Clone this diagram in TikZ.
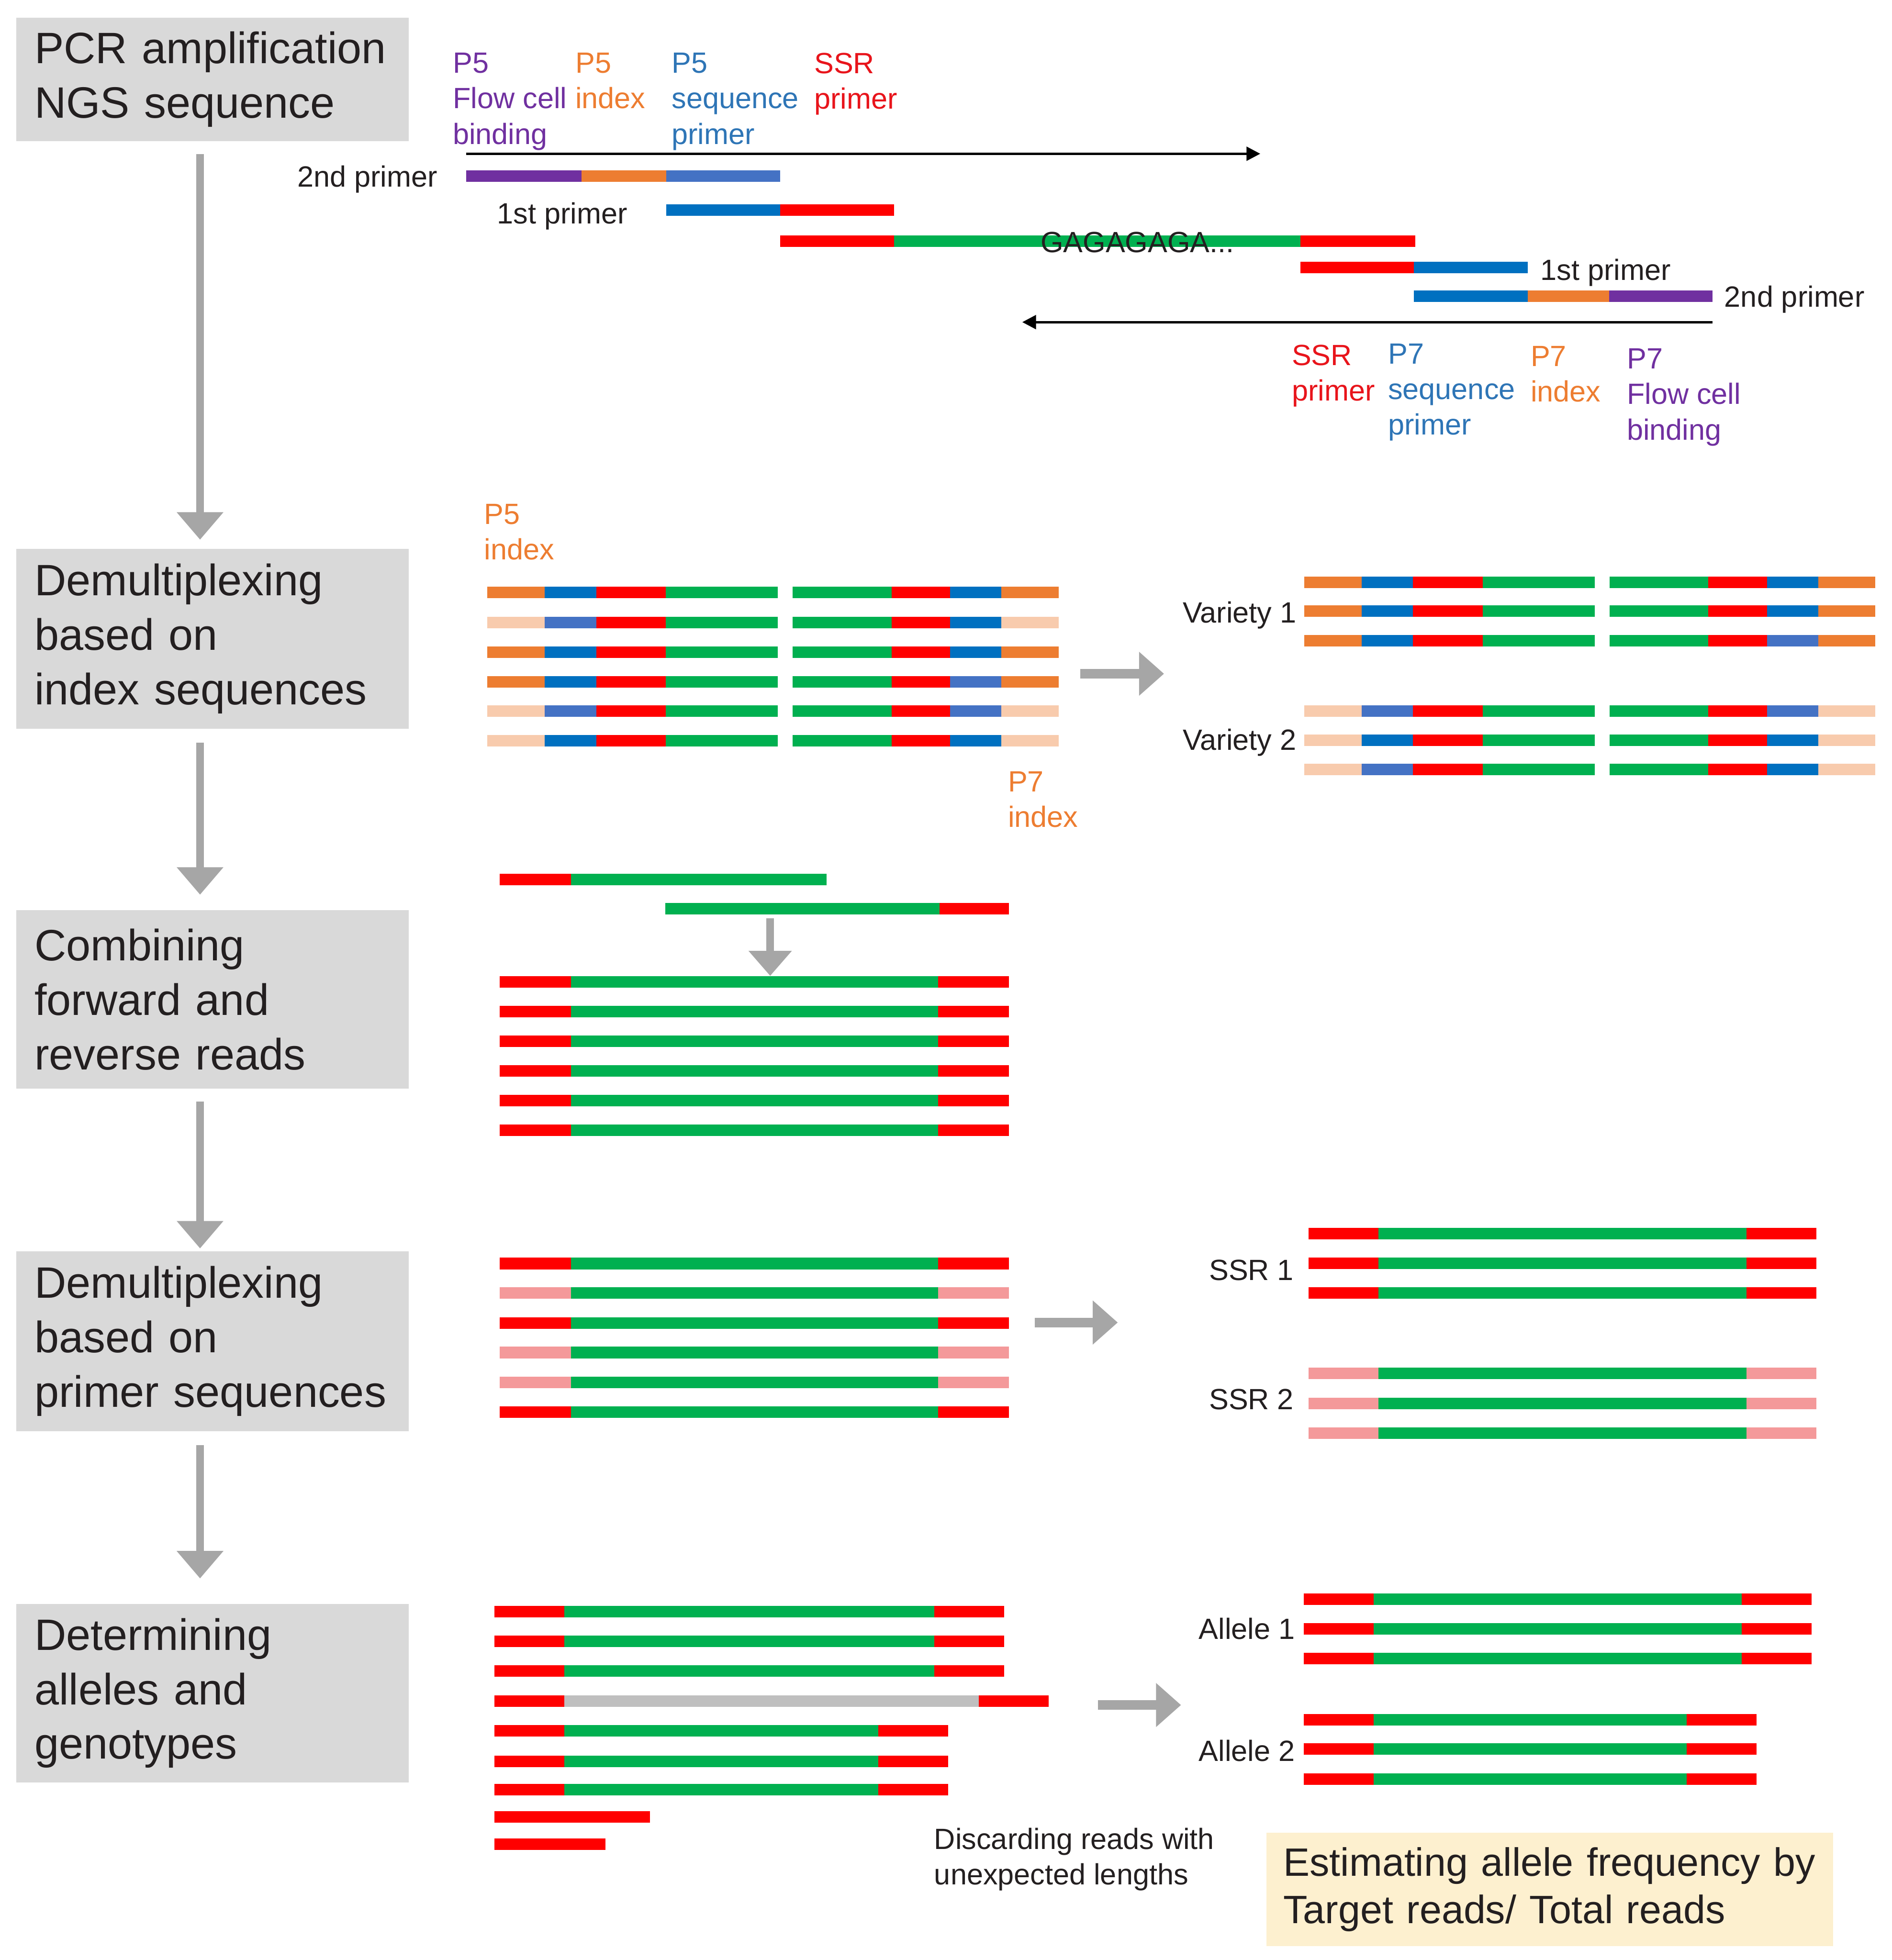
\documentclass[tikz,border=0pt]{standalone}
\usepackage{fontspec}
\setmainfont{Liberation Sans}
\usetikzlibrary{arrows.meta}
\definecolor{cpurple}{HTML}{7030A0}
\definecolor{corange}{HTML}{ED7D31}
\definecolor{cpeach}{HTML}{F8CBAD}
\definecolor{cbdark}{HTML}{0070C0}
\definecolor{cblight}{HTML}{4472C4}
\definecolor{cred}{HTML}{FF0000}
\definecolor{cgreen}{HTML}{00B050}
\definecolor{cpink}{HTML}{F4999A}
\definecolor{cgbar}{HTML}{BFBFBF}
\definecolor{cboxgray}{HTML}{D9D9D9}
\definecolor{cbeige}{HTML}{FDF0CF}
\definecolor{carrow}{HTML}{A6A6A6}
\definecolor{ctext}{HTML}{231F20}
\definecolor{tpurple}{HTML}{7030A0}
\definecolor{torange}{HTML}{ED7D31}
\definecolor{tblue}{HTML}{2E75B6}
\definecolor{tred}{HTML}{E8141B}
\newcommand{\bseg}[4]{\fill[fill=#1] (#2,#4-4.6) rectangle (#3,#4+4.6);}
\begin{document}
\begin{tikzpicture}[x=0.03cm,y=-0.03cm,
  stepbox/.style={fill=cboxgray, draw=none, minimum width=9.42cm, inner xsep=0.44cm, inner ysep=0pt, text width=8.54cm, align=left, font=\fontsize{30}{37.2}\selectfont, text=ctext},
  lbl/.style={inner sep=0pt, align=left, font=\fontsize{20}{24.3}\selectfont},
  blk/.style={lbl, text=ctext},
  garrow/.style={draw=carrow, line width=0.18cm, -{Triangle[length=0.66cm,width=1.08cm]}},
  harrow/.style={draw=carrow, line width=0.225cm, -{Triangle[length=0.6cm,width=1.02cm]}},
  karrow/.style={draw=black, line width=0.06cm, -{Triangle[length=0.33cm,width=0.33cm]}},
]
\useasboundingbox (0,0) rectangle (1513,1568);

% ---------- left step boxes ----------
\node[stepbox, minimum height=2.97cm] (b1) at (170,63.5) {PCR amplification\\NGS sequence};
\node[stepbox, minimum height=4.32cm] (b2) at (170,511) {Demultiplexing\\based on\\index sequences};
\node[stepbox, minimum height=4.29cm] (b3) at (170,799.5) {Combining\\forward and\\reverse reads};
\node[stepbox, minimum height=4.32cm] (b4) at (170,1073) {Demultiplexing\\based on\\primer sequences};
\node[stepbox, minimum height=4.29cm] (b5) at (170,1354.5) {Determining\\alleles and\\genotypes};

\draw[garrow, shorten <=0.3cm, shorten >=0.21cm] ([xshift=-0.3cm]b1.south) -- ([xshift=-0.3cm]b2.north);
\draw[garrow, shorten <=0.33cm, shorten >=0.36cm] ([xshift=-0.3cm]b2.south) -- ([xshift=-0.3cm]b3.north);
\draw[garrow, shorten <=0.3cm, shorten >=0.06cm] ([xshift=-0.3cm]b3.south) -- ([xshift=-0.3cm]b4.north);
\draw[garrow, shorten <=0.33cm, shorten >=0.6cm] ([xshift=-0.3cm]b4.south) -- ([xshift=-0.3cm]b5.north);

% ---------- section 1: PCR ----------
\node[lbl, text=tpurple, anchor=north west] (l1) at (362,42) {P5\\Flow cell\\binding};
\node[lbl, text=torange, anchor=north west] (l2) at (460,42) {P5\\index};
\node[lbl, text=tblue, anchor=north west] (l3) at (537,42) {P5\\sequence\\primer};
\node[lbl, text=tred, anchor=north west] (l4) at (651,42) {SSR\\primer};

\coordinate (fa1) at (373,123);
\coordinate (fa2) at (1008,123);
\draw[karrow] (fa1) -- (fa2);

\bseg{cpurple}{373}{465}{141}
\bseg{corange}{465}{533}{141}
\bseg{cblight}{533}{624}{141}
\bseg{cbdark}{533}{624}{168}
\bseg{cred}{624}{715}{168}
\bseg{cred}{624}{715}{193}
\bseg{cgreen}{715}{1040}{193}
\bseg{cred}{1040}{1132}{193}
\bseg{cred}{1040}{1131}{214}
\bseg{cbdark}{1131}{1222}{214}
\bseg{cbdark}{1131}{1222}{237}
\bseg{corange}{1222}{1287}{237}
\bseg{cpurple}{1287}{1369.5}{237}

\node[blk, anchor=east] (p2a) at (350,143.5) {2nd primer};
\node[blk, anchor=east] (p1a) at (502,173) {1st primer};
\node[blk, anchor=west] (p1b) at (1232,218) {1st primer};
\node[blk, anchor=west] (p2b) at (1379,239.5) {2nd primer};
\node[blk, anchor=west] (gaga) at (832,194) {GAGAGAGA...};

\coordinate (ra1) at (1369.6,257.7);
\coordinate (ra2) at (817.6,257.7);
\draw[karrow] (ra1) -- (ra2);

\node[lbl, text=tred, anchor=north west] (l5) at (1033,275.6) {SSR\\primer};
\node[lbl, text=tblue, anchor=north west] (l6) at (1110,274.6) {P7\\sequence\\primer};
\node[lbl, text=torange, anchor=north west] (l7) at (1224,276.6) {P7\\index};
\node[lbl, text=tpurple, anchor=north west] (l8) at (1301,278.6) {P7\\Flow cell\\binding};

% ---------- section 2: index demultiplexing ----------
\node[lbl, text=torange, anchor=north west] (p5i) at (387,403) {P5\\index};
\node[lbl, text=torange, anchor=north west] (p7i) at (806,617) {P7\\index};

\foreach \xo/\y/\ic/\bl/\br in {
  0/474/corange/cbdark/cbdark,
  0/498/cpeach/cblight/cbdark,
  0/521.6/corange/cbdark/cbdark,
  0/545.4/corange/cbdark/cblight,
  0/569/cpeach/cblight/cblight,
  0/592.7/cpeach/cbdark/cbdark,
  653.4/466/corange/cbdark/cbdark,
  653.4/488.7/corange/cbdark/cbdark,
  653.4/512.5/corange/cbdark/cblight,
  653.4/569/cpeach/cblight/cblight,
  653.4/592.3/cpeach/cbdark/cbdark,
  653.4/615.4/cpeach/cblight/cbdark}{
  \bseg{\ic}{389.6+\xo}{435.8+\xo}{\y}
  \bseg{\bl}{435.8+\xo}{476.8+\xo}{\y}
  \bseg{cred}{476.8+\xo}{532.6+\xo}{\y}
  \bseg{cgreen}{532.6+\xo}{622+\xo}{\y}
  \bseg{cgreen}{634+\xo}{713+\xo}{\y}
  \bseg{cred}{713+\xo}{759.8+\xo}{\y}
  \bseg{\br}{759.8+\xo}{800.8+\xo}{\y}
  \bseg{\ic}{800.8+\xo}{846.6+\xo}{\y}
}

\coordinate (h1a) at (864,539);
\coordinate (h1b) at (931,539);
\draw[harrow] (h1a) -- (h1b);

\node[blk, anchor=east] (v1) at (1037,492) {Variety 1};
\node[blk, anchor=east] (v2) at (1037,594) {Variety 2};

% ---------- section 3: combining ----------
\bseg{cred}{399.5}{456.5}{703.6}
\bseg{cgreen}{456.5}{661}{703.6}
\bseg{cgreen}{532.2}{751.5}{727}
\bseg{cred}{751.5}{807}{727}
\coordinate (d1a) at (616,734.5);
\coordinate (d1b) at (616,780.7);
\draw[draw=carrow, line width=0.19cm, -{Triangle[length=0.6cm,width=1.0cm]}] (d1a) -- (d1b);
\foreach \y in {785.7,809.3,833,856.6,880.5,904.1}{
  \bseg{cred}{399.5}{456.5}{\y}
  \bseg{cgreen}{456.5}{750.4}{\y}
  \bseg{cred}{750.4}{806.8}{\y}
}

% ---------- section 4: primer demultiplexing ----------
\foreach \y/\pc in {1010.8/cred,1034.4/cpink,1058.3/cred,1082/cpink,1105.9/cpink,1129.5/cred}{
  \bseg{\pc}{399.5}{456.5}{\y}
  \bseg{cgreen}{456.5}{750.4}{\y}
  \bseg{\pc}{750.4}{806.8}{\y}
}
\coordinate (h2a) at (827.6,1058);
\coordinate (h2b) at (894,1058);
\draw[harrow] (h2a) -- (h2b);
\foreach \y/\pc in {986.9/cred,1010.5/cred,1034.4/cred,1098.8/cpink,1122.6/cpink,1146.4/cpink}{
  \bseg{\pc}{1046.6}{1102.5}{\y}
  \bseg{cgreen}{1102.5}{1396.7}{\y}
  \bseg{\pc}{1396.7}{1452.6}{\y}
}
\node[blk, anchor=east] (s1) at (1035,1016) {SSR 1};
\node[blk, anchor=east] (s2) at (1035,1119.5) {SSR 2};

% ---------- section 5: alleles ----------
\foreach \y in {1289.2,1313,1336.9}{
  \bseg{cred}{395.6}{451.5}{\y}
  \bseg{cgreen}{451.5}{747.2}{\y}
  \bseg{cred}{747.2}{803}{\y}
}
\bseg{cred}{395.6}{451.5}{1360.8}
\bseg{cgbar}{451.5}{783}{1360.8}
\bseg{cred}{783}{838.8}{1360.8}
\foreach \y in {1384.7,1409,1431.8}{
  \bseg{cred}{395.6}{451.5}{\y}
  \bseg{cgreen}{451.5}{702.5}{\y}
  \bseg{cred}{702.5}{758.3}{\y}
}
\bseg{cred}{395.6}{520}{1453.6}
\bseg{cred}{395.6}{484.2}{1475.4}

\coordinate (h3a) at (878,1364);
\coordinate (h3b) at (944.6,1364);
\draw[harrow] (h3a) -- (h3b);

\foreach \y in {1279.2,1303,1326.9}{
  \bseg{cred}{1042.9}{1098.8}{\y}
  \bseg{cgreen}{1098.8}{1393}{\y}
  \bseg{cred}{1393}{1448.8}{\y}
}
\foreach \y in {1375.7,1399.2,1423.1}{
  \bseg{cred}{1042.9}{1098.8}{\y}
  \bseg{cgreen}{1098.8}{1349}{\y}
  \bseg{cred}{1349}{1404.9}{\y}
}
\node[blk, anchor=east] (a1) at (1036,1303) {Allele 1};
\node[blk, anchor=east] (a2) at (1036,1400.7) {Allele 2};

\node[blk, anchor=north west] (disc) at (747,1462) {Discarding reads with\\unexpected lengths};

\node[fill=cbeige, minimum width=13.59cm, minimum height=2.73cm, inner xsep=0.405cm, inner ysep=0pt, text width=12.78cm, align=left, font=\fontsize{27}{32.4}\selectfont, text=ctext] (est) at (1239.5,1511.5) {Estimating allele frequency by\\Target reads/ Total reads};
\end{tikzpicture}
\end{document}
